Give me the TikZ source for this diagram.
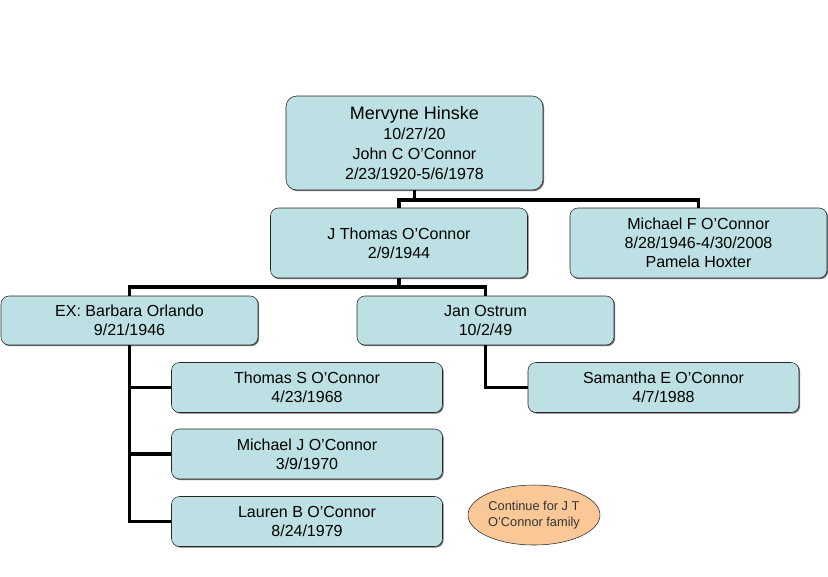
\documentclass[tikz,border=0pt]{standalone}
\usepackage{fontspec}
\setmainfont{Liberation Sans}
\usepackage{xcolor}
\usetikzlibrary{shapes,arrows.meta,positioning,calc,shadows}

\definecolor{boxfill}{RGB}{188,224,227}
\definecolor{ovalfill}{RGB}{250,200,150}

\begin{document}
\begin{tikzpicture}[
    x=0.75pt, y=-0.75pt,
    box/.style={rectangle, draw=black!85, fill=boxfill, rounded corners=6pt, align=center, font={\fontsize{12}{14.25}\selectfont}, drop shadow={shadow xshift=0.9pt, shadow yshift=-0.9pt, fill=black!70, opacity=0.8}},
    big/.style={box, minimum width=192.75pt, minimum height=52.5pt},
    mid/.style={box, minimum width=192.75pt, minimum height=36.75pt},
    kid/.style={box, minimum width=203.25pt, minimum height=37.5pt},
    oval/.style={ellipse, draw=black!85, fill=ovalfill, align=center, minimum width=99pt, minimum height=45pt, inner sep=0pt, font={\fontsize{9.6}{12}\selectfont}, text=black!80},
    ln/.style={line width=2.8pt, draw=black}
]
    \useasboundingbox [fill=white] (0,0) rectangle (828,576);

    \node [box, minimum width=192.75pt, minimum height=70.5pt, rounded corners=8pt, font={\fontsize{12}{15}\selectfont}] (mh) at (414.5,143)
        {{\fontsize{13.5}{15}\selectfont Mervyne Hinske}\\10/27/20\\John C O'Connor\\2/23/1920-5/6/1978};
    \node [big] (jt) at (399,243) {J Thomas O'Connor\\2/9/1944};
    \node [big] (mf) at (698.5,243) {Michael F O'Connor\\8/28/1946-4/30/2008\\Pamela Hoxter};
    \node [mid] (bo) at (129.5,320.5) {EX: Barbara Orlando\\9/21/1946};
    \node [mid] (jo) at (485.5,320.5) {Jan Ostrum\\10/2/49};
    \node [kid] (ts) at (307,387.5) {Thomas S O'Connor\\4/23/1968};
    \node [kid] (mj) at (307,454) {Michael J O'Connor\\3/9/1970};
    \node [kid] (lb) at (307,521.5) {Lauren B O'Connor\\8/24/1979};
    \node [kid] (se) at (663.5,387.5) {Samantha E O'Connor\\4/7/1988};
    \node [oval] (more) at (534,515) {Continue for J T\\O'Connor family};

    % bus lines
    \coordinate (j1) at (414.5,200);
    \coordinate (j2) at (399,287);
    \draw [ln] (mh.south) -- (j1);
    \draw [ln] (jt.north) |- (j1) -| (mf.north);
    \draw [ln] (jt.south) -- (j2);
    \draw [ln] (bo.north) |- (j2) -| (jo.north);

    % children
    \draw [ln] (bo.south) |- (ts.west);
    \draw [ln] (bo.south) |- (mj.west);
    \draw [ln] (bo.south) |- (lb.west);
    \draw [ln] (jo.south) |- (se.west);
\end{tikzpicture}
\end{document}
